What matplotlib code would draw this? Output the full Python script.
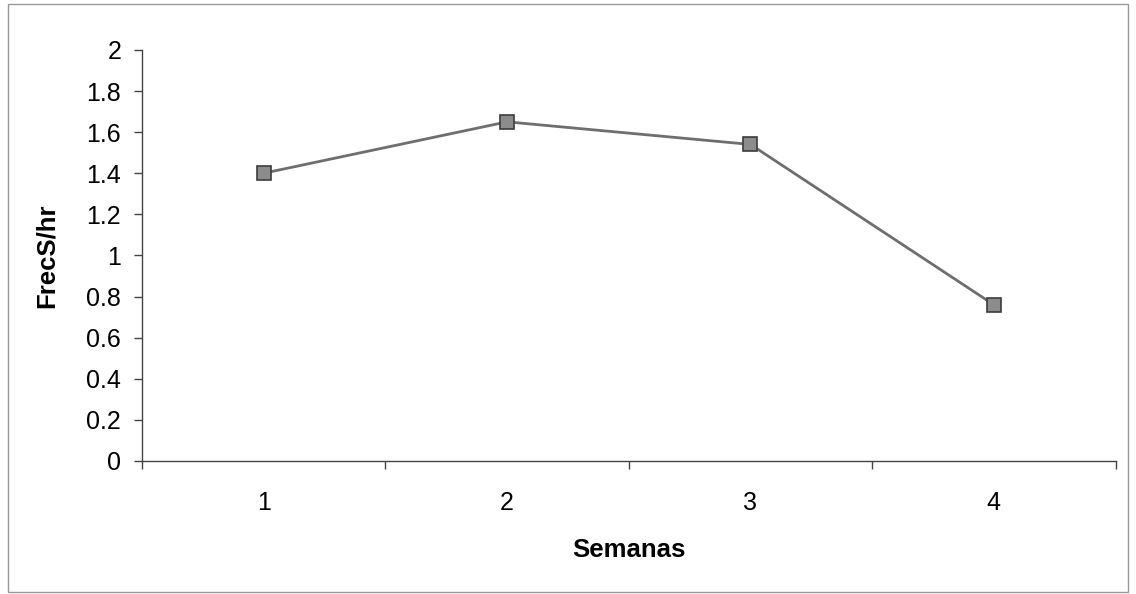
import matplotlib

matplotlib.use("Agg")
import matplotlib.pyplot as plt
from matplotlib.patches import Rectangle

semanas = [1, 2, 3, 4]
frec_hr = [1.40, 1.65, 1.54, 0.76]
y_ticks = [0, 0.2, 0.4, 0.6, 0.8, 1, 1.2, 1.4, 1.6, 1.8, 2]
y_labels = ["0", "0.2", "0.4", "0.6", "0.8", "1", "1.2", "1.4", "1.6", "1.8", "2"]

plt.rcParams["font.family"] = ["Liberation Sans", "DejaVu Sans"]

fig = plt.figure(figsize=(11.36, 5.94), dpi=100)
ax = fig.add_axes([0.125, 0.224, 0.857, 0.692])

ax.plot(
    semanas,
    frec_hr,
    color="#6e6e6e",
    linewidth=2,
    marker="s",
    markersize=10,
    markerfacecolor="#8c8c8c",
    markeredgecolor="#3c3c3c",
    markeredgewidth=1.2,
)

ax.set_xlim(0.5, 4.5)
ax.set_ylim(0, 2)
ax.set_yticks(y_ticks)
ax.set_yticklabels(y_labels)
ax.set_xticks(semanas)
ax.set_xticks([0.5, 1.5, 2.5, 3.5, 4.5], minor=True)
ax.tick_params(axis="x", which="major", length=0, labelsize=18, pad=22)
ax.tick_params(axis="x", which="minor", length=6, width=1, color="#444444")
ax.tick_params(axis="y", length=6, width=1, color="#444444", labelsize=18, pad=9)

for side in ("top", "right"):
    ax.spines[side].set_visible(False)
for side in ("left", "bottom"):
    ax.spines[side].set_color("#444444")
    ax.spines[side].set_linewidth(1)

ax.set_xlabel("Semanas", fontsize=18.5, fontweight="bold", labelpad=16)
ax.set_ylabel("FrecS/hr", fontsize=18.5, fontweight="bold", labelpad=20)

# outer chart border
fig.patches.append(
    Rectangle(
        (0.007, 0.004),
        0.986,
        0.99,
        transform=fig.transFigure,
        fill=False,
        edgecolor="#999999",
        linewidth=1,
    )
)

fig.savefig("out.png", dpi=100)
plt.close(fig)
